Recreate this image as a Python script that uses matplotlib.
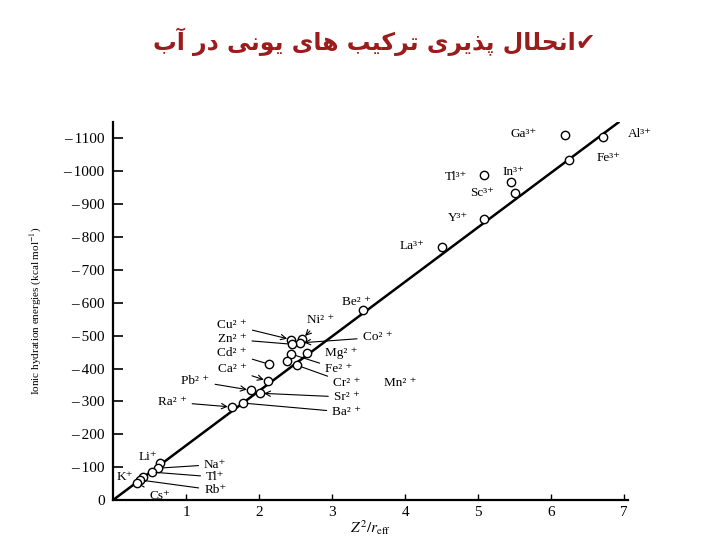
import matplotlib
matplotlib.use("Agg")
import matplotlib.pyplot as plt
from matplotlib.ticker import FuncFormatter

# ---- data ----
ions = ["Ga³⁺", "Al³⁺", "Fe³⁺", "Tl³⁺", "In³⁺", "Sc³⁺",
        "Y³⁺", "La³⁺", "Be² ⁺", "Ni² ⁺", "Cu² ⁺", "Co² ⁺",
        "Zn² ⁺", "Mg² ⁺", "Cd² ⁺", "Fe² ⁺", "Ca² ⁺", "Cr² ⁺",
        "Mn² ⁺", "Pb² ⁺", "Sr² ⁺", "Ra² ⁺", "Ba² ⁺",
        "Li⁺", "Na⁺", "K⁺", "Tl⁺", "Rb⁺", "Cs⁺"]
z2_r = [6.19, 6.71, 6.25, 5.08, 5.45, 5.51,
        5.08, 4.51, 3.42, 2.59, 2.44, 2.56,
        2.45, 2.66, 2.14, 2.44, 2.12, 2.52,
        2.38, 1.89, 2.01, 1.63, 1.78,
        0.64, 0.62, 0.41, 0.53, 0.37, 0.33]
energy = [-1112, -1106, -1036, -988, -967, -933,
          -854, -769, -578, -490, -488, -478,
          -474, -447, -413, -444, -362, -410,
          -422, -334, -325, -283, -295,
          -112, -97, -70, -85, -61, -52]

fit_x = [0, 6.92]
fit_slope = -166

# label placement (layout only)
label_x = [5.62, 7.22, 6.78, 4.70, 5.48, 5.05, 4.72, 4.10, 3.33, 2.84, 1.63, 3.62,
           1.63, 3.13, 1.63, 3.09, 1.63, 3.20, 3.93, 1.13, 3.20, 0.81, 3.20,
           0.48, 1.40, 0.16, 1.40, 1.40, 0.64]
label_y = [-1115, -1115, -1040, -982, -997, -933, -857, -772, -602, -547, -532, -495,
           -489, -447, -447, -398, -398, -356, -356, -362, -313, -298, -267,
           -131, -108, -70, -70, -30, -12]
arrows = [None, None, None, None, None, None, None, None, None, "->", "->", "->",
          "-", None, "-", "-", "->", "-", None, "->", "->", "->", "-",
          None, "-", None, "-", "-", "-"]

title_words = ["انحلال", "پذیری", "ترکیب", "های", "یونی", "در", "آب"]

# arabic contextual forms: isolated, final, initial, medial
FORMS = {
    "ا": (0xFE8D, 0xFE8E, None, None), "آ": (0xFE81, 0xFE82, None, None),
    "ن": (0xFEE5, 0xFEE6, 0xFEE7, 0xFEE8), "ح": (0xFEA1, 0xFEA2, 0xFEA3, 0xFEA4),
    "ل": (0xFEDD, 0xFEDE, 0xFEDF, 0xFEE0), "پ": (0xFB56, 0xFB57, 0xFB58, 0xFB59),
    "ذ": (0xFEAB, 0xFEAC, None, None), "ی": (0xFBFC, 0xFBFD, 0xFBFE, 0xFBFF),
    "ر": (0xFEAD, 0xFEAE, None, None), "ت": (0xFE95, 0xFE96, 0xFE97, 0xFE98),
    "ک": (0xFB8E, 0xFB8F, 0xFB90, 0xFB91), "ب": (0xFE8F, 0xFE90, 0xFE91, 0xFE92),
    "ه": (0xFEE9, 0xFEEA, 0xFEEB, 0xFEEC), "و": (0xFEED, 0xFEEE, None, None),
    "د": (0xFEA9, 0xFEAA, None, None),
}


def shape(word):
    out = []
    for i, ch in enumerate(word):
        iso, fin, ini, med = FORMS[ch]
        prev = i > 0 and FORMS[word[i - 1]][2] is not None
        nxt = ini is not None and i < len(word) - 1
        if prev and nxt:
            c = med
        elif prev:
            c = fin
        elif nxt:
            c = ini
        else:
            c = iso
        out.append(chr(c))
    return "".join(reversed(out))


plt.rcParams["font.family"] = ["Liberation Serif", "DejaVu Serif"]
plt.rcParams["mathtext.fontset"] = "stix"

fig = plt.figure(figsize=(7.2, 5.4), dpi=100)
ax = fig.add_axes([0.157, 0.074, 0.715, 0.70])

ax.plot(fit_x, [fit_slope * v for v in fit_x], color="black", lw=1.8, zorder=2)
ax.plot(z2_r, energy, "o", ms=6, mfc="white", mec="black", mew=1.0, zorder=3)

for i, name in enumerate(ions):
    props = None
    if arrows[i]:
        props = dict(arrowstyle=arrows[i], color="black", lw=0.8, shrinkA=2, shrinkB=3)
    ax.annotate(name, xy=(z2_r[i], energy[i]), xytext=(label_x[i], label_y[i]),
                ha="center", va="center", fontsize=9.5, arrowprops=props,
                annotation_clip=False)

ax.set_xlim(0, 7.05)
ax.set_ylim(0, -1150)
ax.set_xticks(range(1, 8))
ax.set_yticks(range(0, -1101, -100))
ax.yaxis.set_major_formatter(
    FuncFormatter(lambda v, p: "0" if v == 0 else "\u2013\u2009%d" % -v))
ax.tick_params(axis="y", direction="in", length=7, width=1.2, labelsize=11, pad=6)
ax.tick_params(axis="x", direction="in", length=4, width=1.0, labelsize=11, pad=4)
for s in ["top", "right"]:
    ax.spines[s].set_visible(False)
for s in ["left", "bottom"]:
    ax.spines[s].set_linewidth(1.6)

ax.set_xlabel("$Z^2/r_{\\mathrm{eff}}$", fontsize=11, labelpad=0)
ax.set_ylabel("Ionic hydration energies (kcal mol$^{-1}$)", fontsize=8, labelpad=14)

title = " ".join(shape(w) for w in reversed(title_words)) + "\u2714"
fig.text(0.52, 0.922, title, ha="center", va="center", fontsize=17,
         fontweight="bold", color="#9b1c1c", family=["DejaVu Sans"])

fig.savefig("out.png", dpi=100)
plt.close(fig)
